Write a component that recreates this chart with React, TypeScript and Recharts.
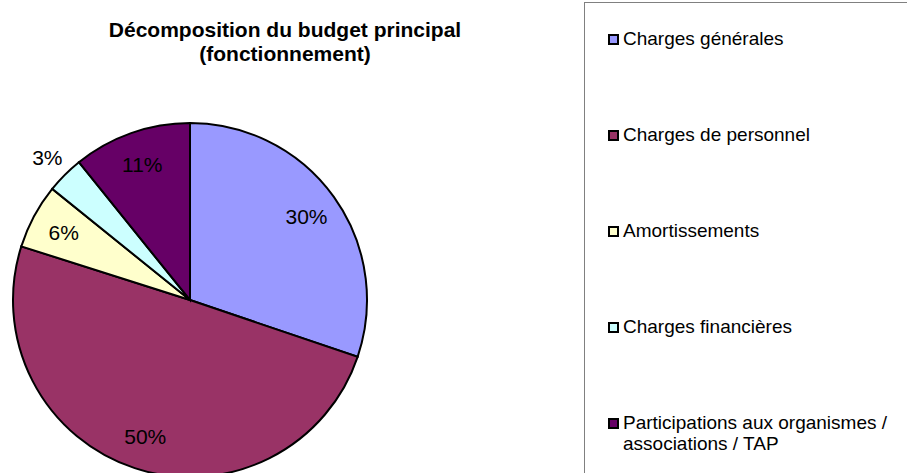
import { PieChart, Pie, Cell, Legend } from 'recharts'

const categories = [
  'Charges générales',
  'Charges de personnel',
  'Amortissements',
  'Charges financières',
  'Participations aux organismes / associations / TAP',
]
const shares = [30.2, 49.7, 5.9, 3.4, 10.8]
const colors = ['#9999FF', '#993366', '#FFFFCC', '#CCFFFF', '#660066']

const data = categories.map((name, i) => ({ name, value: shares[i] }))

const font = '"Liberation Sans", Arial, sans-serif'
const RAD = Math.PI / 180

const renderLabel = (p: any) => {
  const r = p.percent < 0.04 ? p.outerRadius * 1.14 : p.outerRadius * 0.81
  const x = p.cx + r * Math.cos(-p.midAngle * RAD)
  const y = p.cy + r * Math.sin(-p.midAngle * RAD)
  return (
    <text x={x} y={y} fill="#000" fontSize={21} fontFamily={font} textAnchor="middle" dominantBaseline="central">
      {Math.round(p.percent * 100)}%
    </text>
  )
}

// legend keeps the data order (recharts sorts its payload by name)
const renderLegend = () => (
  <div style={{ width: 340, height: 480, border: '1.5px solid #808080', boxSizing: 'border-box', position: 'relative', fontFamily: font }}>
    {categories.map((name, i) => (
      <div key={name} style={{ position: 'absolute', left: 23, top: 25 + i * 96, display: 'flex', alignItems: 'flex-start' }}>
        <span style={{ width: 7, height: 7, border: '2px solid #000', background: colors[i], marginTop: 6, marginRight: 4, flexShrink: 0 }} />
        <span style={{ fontSize: 19, lineHeight: '21px', color: '#000', width: 275 }}>{name}</span>
      </div>
    ))}
  </div>
)

export default function App() {
  return (
    <div style={{ position: 'absolute', left: 0, top: 0, width: 907, height: 473, overflow: 'hidden', background: '#fff' }}>
      <PieChart width={907} height={473}>
        <text x={285} y={37} textAnchor="middle" fontFamily={font} fontSize={21} fontWeight="bold" fill="#000">
          Décomposition du budget principal
        </text>
        <text x={285} y={61} textAnchor="middle" fontFamily={font} fontSize={21} fontWeight="bold" fill="#000">
          (fonctionnement)
        </text>
        <Pie
          data={data}
          dataKey="value"
          nameKey="name"
          cx={185}
          cy={295}
          outerRadius={177}
          startAngle={90}
          endAngle={-270}
          stroke="#000"
          strokeWidth={2}
          label={renderLabel}
          labelLine={false}
          isAnimationActive={false}
        >
          {data.map((d, i) => (
            <Cell key={d.name} fill={colors[i]} />
          ))}
        </Pie>
        <Legend
          content={renderLegend}
          wrapperStyle={{ position: 'absolute', left: 584, top: 2, width: 340, height: 480 }}
        />
      </PieChart>
    </div>
  )
}
